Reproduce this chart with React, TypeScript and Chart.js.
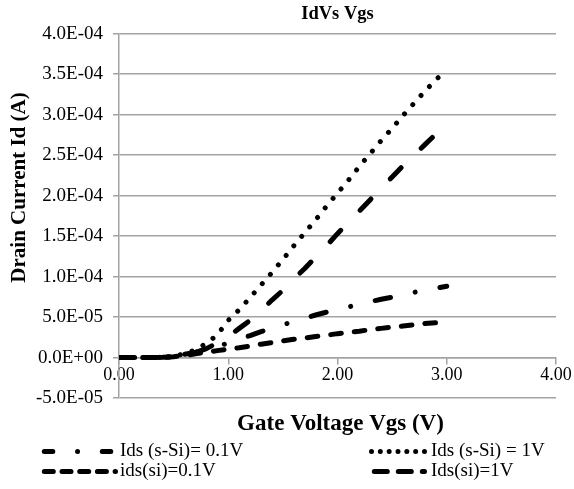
import { useEffect, useRef } from 'react';
import { Chart, registerables } from 'chart.js';

Chart.register(...registerables);

const FONT = "'Liberation Serif', 'Times New Roman', serif";

// ---- data ----
const chartTitle = 'IdVs Vgs';
const xTitle = 'Gate Voltage Vgs (V)';
const yTitle = 'Drain Current Id (A)';

const vgs = [0.0, 0.1, 0.2, 0.3, 0.4, 0.5, 0.6, 0.7, 0.8, 0.9, 1.0, 1.1, 1.2, 1.3, 1.4, 1.5, 1.6, 1.7, 1.8, 1.9, 2.0, 2.1, 2.2, 2.3, 2.4, 2.5, 2.6, 2.7, 2.8, 2.9, 3.0];

const idsSSi01 = [0, 0, 0, 0, 0.05e-5, 0.2e-5, 0.4e-5, 0.65e-5, 0.95e-5, 1.35e-5, 1.8e-5, 2.3e-5, 2.7e-5, 3.2e-5, 3.6e-5, 4.05e-5, 4.45e-5, 4.85e-5, 5.25e-5, 5.6e-5, 5.9e-5, 6.25e-5, 6.6e-5, 6.9e-5, 7.2e-5, 7.45e-5, 7.75e-5, 8.05e-5, 8.3e-5, 8.55e-5, 8.8e-5];
const idsSSi1 = [0, 0, 0, 0, 0.03e-5, 0.15e-5, 0.45e-5, 0.95e-5, 1.75e-5, 2.8e-5, 4.6e-5, 5.9e-5, 7.4e-5, 8.95e-5, 10.5e-5, 12.1e-5, 13.8e-5, 15.4e-5, 17.0e-5, 18.7e-5, 20.3e-5, 21.9e-5, 23.6e-5, 25.2e-5, 26.8e-5, 28.3e-5, 29.9e-5, 31.4e-5, 32.9e-5, 34.3e-5, 35.6e-5];
const idsSi01 = [0, 0, 0, 0, 0.02e-5, 0.1e-5, 0.25e-5, 0.45e-5, 0.65e-5, 0.85e-5, 1.05e-5, 1.2e-5, 1.4e-5, 1.65e-5, 1.85e-5, 2.05e-5, 2.25e-5, 2.4e-5, 2.6e-5, 2.75e-5, 2.95e-5, 3.1e-5, 3.25e-5, 3.45e-5, 3.6e-5, 3.75e-5, 3.9e-5, 4.05e-5, 4.2e-5, 4.3e-5, 4.4e-5];
const idsSi1 = [0, 0, 0, 0, 0.02e-5, 0.1e-5, 0.3e-5, 0.6e-5, 1.1e-5, 1.8e-5, 2.6e-5, 3.6e-5, 4.6e-5, 5.8e-5, 7.1e-5, 8.3e-5, 9.7e-5, 11.0e-5, 12.4e-5, 13.8e-5, 15.3e-5, 16.7e-5, 18.1e-5, 19.5e-5, 20.9e-5, 22.3e-5, 23.7e-5, 25.0e-5, 26.3e-5, 27.6e-5, 28.9e-5];

const seriesLabels = ['Ids (s-Si)= 0.1V', 'Ids (s-Si) = 1V', 'ids(si)=0.1V', 'Ids(si)=1V'];

const xTickLabels = ['0.00', '1.00', '2.00', '3.00', '4.00'];
const yTickLabels = ['-5.0E-05', '0.0E+00', '5.0E-05', '1.0E-04', '1.5E-04', '2.0E-04', '2.5E-04', '3.0E-04', '3.5E-04', '4.0E-04'];

// ---- styles ----
const GRID = '#a3a3a3';
const LINE = '#000000';
const LW = 5;

const plotDash = [
  [15.6, 25.2, 0.01, 25.2], // dash-dot
  [0.01, 12.3], // round dots
  [10.7, 13], // dash
  [15.5, 28], // long dash
];
const plotDashOffset = [0, 0, 0, 8];

const legendLayout = [
  { x0: 44.3, x1: 113.5, y: 451.5, tx: 120, dash: [8.5, 24.75, 0.01, 24.74] },
  { x0: 371.5, x1: 424.6, y: 451.5, tx: 431, dash: [0.01, 8.82] },
  { x0: 44.3, x1: 115.5, y: 471.5, tx: 120, dash: [9, 8.7] },
  { x0: 374.3, x1: 424.5, y: 471.5, tx: 431, dash: [13, 11] },
];

const seriesValues = [idsSSi01, idsSSi1, idsSi01, idsSi1];

const extrasPlugin = {
  id: 'extras',
  afterDraw(chart: any) {
    const ctx = chart.ctx as CanvasRenderingContext2D;
    const area = chart.chartArea;
    ctx.save();
    ctx.fillStyle = '#000';
    ctx.textAlign = 'center';
    ctx.textBaseline = 'alphabetic';
    ctx.font = `bold 23px ${FONT}`;
    ctx.fillText(xTitle, (area.left + area.right) / 2 + 3, 430);
    ctx.font = `bold 21px ${FONT}`;
    ctx.translate(24.5, 187.5);
    ctx.rotate(-Math.PI / 2);
    ctx.fillText(yTitle, 0, 0);
    ctx.restore();

    chart.data.datasets.forEach((ds: any, i: number) => {
      const L = legendLayout[i];
      ctx.save();
      ctx.strokeStyle = ds.borderColor;
      ctx.lineWidth = ds.borderWidth;
      ctx.lineCap = 'round';
      ctx.setLineDash(L.dash);
      ctx.beginPath();
      ctx.moveTo(L.x0, L.y);
      ctx.lineTo(L.x1, L.y);
      ctx.stroke();
      ctx.setLineDash([]);
      ctx.fillStyle = '#000';
      ctx.font = `19px ${FONT}`;
      ctx.textAlign = 'left';
      ctx.textBaseline = 'middle';
      ctx.fillText(ds.label, L.tx, L.y);
      ctx.restore();
    });
  },
};

export default function App() {
  const ref = useRef<HTMLCanvasElement | null>(null);

  useEffect(() => {
    if (!ref.current) return;
    Chart.defaults.font.family = FONT;
    const datasets = seriesValues.map((vals, i) => ({
      label: seriesLabels[i],
      data: vgs.map((x, k) => ({ x, y: vals[k] })),
      borderColor: LINE,
      backgroundColor: LINE,
      borderWidth: LW,
      borderDash: plotDash[i],
      borderDashOffset: plotDashOffset[i],
      borderCapStyle: 'round' as const,
      borderJoinStyle: 'round' as const,
      pointRadius: 0,
      pointHoverRadius: 0,
      tension: 0,
      fill: false,
    }));

    const chart = new Chart(ref.current, {
      type: 'line',
      data: { datasets },
      plugins: [extrasPlugin],
      options: {
        animation: false,
        responsive: false,
        devicePixelRatio: 1,
        layout: { padding: { left: 0, right: 18, top: 0, bottom: 91 } },
        plugins: {
          legend: { display: false },
          tooltip: { enabled: false },
          title: {
            display: true,
            text: chartTitle,
            fullSize: false,
            color: '#000',
            font: { size: 18.5, weight: 'bold', family: FONT },
            padding: { top: 3, bottom: 8.5 },
          },
        },
        scales: {
          x: {
            type: 'linear',
            position: { y: 0 } as any,
            min: 0,
            max: 4,
            ticks: {
              stepSize: 1,
              autoSkip: false,
              maxRotation: 0,
              color: '#000',
              padding: 1,
              font: { size: 18, family: FONT },
              callback: (_v: any, i: number) => xTickLabels[i],
            },
            grid: { display: true, drawOnChartArea: false, drawTicks: true, tickLength: 6, color: GRID, lineWidth: 1.5 },
            border: { display: true, color: GRID, width: 1.5 },
          },
          y: {
            type: 'linear',
            position: 'left',
            min: -5e-5,
            max: 4e-4,
            afterFit: (s: any) => {
              s.width = 119;
            },
            ticks: {
              stepSize: 5e-5,
              color: '#000',
              padding: 10,
              font: { size: 19, family: FONT },
              callback: (_v: any, i: number) => yTickLabels[i],
            },
            grid: { color: GRID, lineWidth: 1.5, tickLength: 6, drawTicks: true },
            border: { display: true, color: GRID, width: 1.5 },
          },
        },
      },
    });
    return () => chart.destroy();
  }, []);

  return (
    <div style={{ position: 'fixed', left: 0, top: 0, width: 574, height: 489, background: '#fff' }}>
      <canvas ref={ref} width={574} height={489} style={{ display: 'block' }} />
    </div>
  );
}
